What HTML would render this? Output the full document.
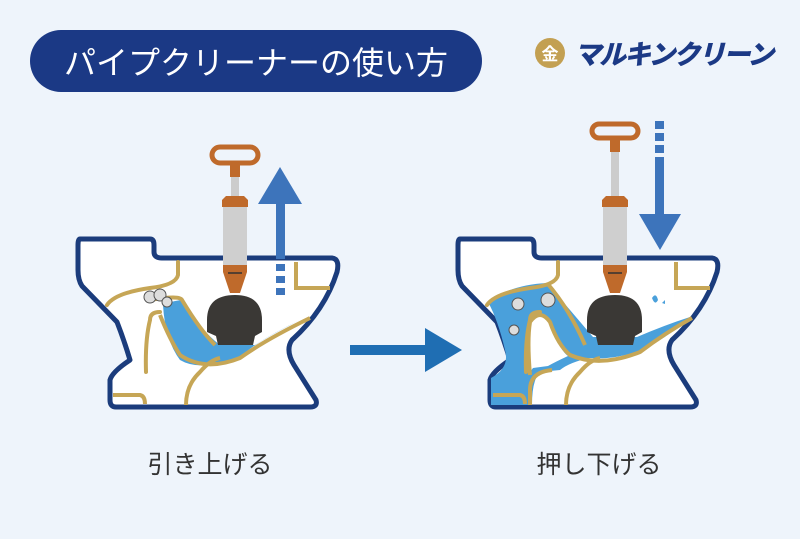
<!DOCTYPE html>
<html><head><meta charset="utf-8"><style>
body{margin:0;width:800px;height:534px;background:#eef4fb;overflow:hidden;font-family:"Liberation Sans","Noto Sans CJK JP",sans-serif}
</style></head><body>
<svg width="800" height="534" viewBox="0 0 800 534" xmlns="http://www.w3.org/2000/svg">
<rect x="0" y="0" width="800" height="534" fill="#eef4fb"/>
<rect x="30" y="30" width="452" height="62" rx="31" fill="#1b3985"/>
<text x="256" y="74" font-size="32" fill="#fff" text-anchor="middle" font-family="Noto Sans CJK JP,sans-serif">パイプクリーナーの使い方</text>
<circle cx="550" cy="53" r="15" fill="#c3a052"/>
<text x="550" y="60" font-size="17" fill="#fff" text-anchor="middle" font-weight="bold" font-family="Noto Sans CJK JP,sans-serif">金</text>
<text x="574" y="64" font-size="27" fill="#1b3985" font-weight="900" font-style="italic" font-family="Noto Sans CJK JP,sans-serif" textLength="200">マルキンクリーン</text>

<defs>
<g id="toilet">
<path d="M80,239 L150,239 Q154,239 154,245 L154,252 Q154,258 162,258 L332,258 Q340,259 337,272 Q325,310 292,340 Q285,350 294,365 L316,400 Q318,407 310,407 L116,407 Q110,407 110,400 L110,380 Q112,372 130,360 Q124,340 117,322 L82,286 Q78,280 78,270 L78,245 Q78,239 80,239 Z" fill="#fff" stroke="#1b3c7c" stroke-width="5" stroke-linejoin="round"/>
</g>
<g id="gold">
<path d="M178,262 L178,275 Q176,285 150,288 Q115,293 107,305 M146,372 Q145,340 150,320 Q150,312 160,312" fill="none" stroke="#c6a656" stroke-width="4" stroke-linecap="round"/>
<path d="M296,262 L296,288 L330,288" fill="none" stroke="#c6a656" stroke-width="4"/>
<path d="M113,395 L140,395 Q145,396 145,404 M186,405 Q186,385 200,372 Q210,360 220,358" fill="none" stroke="#c6a656" stroke-width="4"/>
</g>
</defs>

<!-- left toilet -->
<use href="#toilet"/>
<path d="M163,305 Q175,300 183,300 Q200,330 220,345 L255,345 Q275,332 300,320 Q250,345 240,358 Q200,372 180,360 Q165,340 163,305 Z" fill="#4aa0db"/>
<use href="#gold"/>
<path d="M150,300 Q180,295 182,300 Q200,330 215,345 M160,315 Q170,340 180,355 Q205,372 240,358 Q265,340 310,318" fill="none" stroke="#c6a656" stroke-width="4"/>
<g fill="#ddd" stroke="#555" stroke-width="1"><circle cx="150" cy="297" r="6"/><circle cx="160" cy="295" r="6"/><circle cx="167" cy="302" r="5"/></g>

<!-- right toilet -->
<use href="#toilet" transform="translate(380,0)"/>
<path d="M488,302 Q510,285 547,283 Q570,310 593,337 L637,337 Q665,325 690,317 Q665,340 637,352 Q610,360 590,358 Q570,362 560,370 L540,372 Q532,380 532,405 L491,405 L491,378 Q510,368 505,350 Q498,320 488,302 Z" fill="#4aa0db"/>
<path d="M530,372 Q527,340 530,322 Q537,312 545,315 Q552,322 556,335 Q560,350 568,356 Q555,362 548,366 L533,368 Z" fill="#fff"/>
<use href="#gold" transform="translate(380,0)"/>
<path d="M547,283 Q570,310 585,345 M530,375 Q527,340 530,322 Q540,308 550,322 Q558,345 570,355 Q600,368 640,352 Q665,333 692,318 M552,370 Q530,372 530,390 L530,405" fill="none" stroke="#c6a656" stroke-width="4"/>
<g fill="#ddd" stroke="#555" stroke-width="1"><circle cx="518" cy="304" r="6"/><circle cx="548" cy="300" r="7"/><circle cx="514" cy="330" r="5"/></g>
<path d="M652,298 q4,-6 6,2 q-3,6 -6,-2Z M662,303 l3,-3 l0,4Z" fill="#4aa0db"/>

<!-- left plunger -->
<g>
<rect x="212" y="147" width="46" height="16" rx="8" fill="none" stroke="#bf6a2b" stroke-width="5"/>
<rect x="230" y="163" width="10" height="14" fill="#bf6a2b"/>
<rect x="231" y="177" width="8" height="20" fill="#ccc"/>
<path d="M222,200 L226,196 L244,196 L248,200 L248,207 L222,207Z" fill="#bf6a2b"/>
<rect x="223" y="207" width="24" height="58" fill="#cfcfcf"/>
<path d="M223,265 L247,265 L247,272 L240,293 L230,293 L223,272Z" fill="#bf6a2b"/>
<line x1="228" y1="273" x2="242" y2="273" stroke="#333" stroke-width="1.5"/>
<path d="M207,320 Q207,295 235,295 Q262,295 262,320 L262,332 L255,336 L253,345 L218,345 L216,336 L207,332Z" fill="#3a3835"/>
</g>
<!-- right plunger -->
<g>
<rect x="592" y="124" width="46" height="14" rx="7" fill="none" stroke="#bf6a2b" stroke-width="5"/>
<rect x="610" y="138" width="10" height="14" fill="#bf6a2b"/>
<rect x="611" y="152" width="8" height="45" fill="#ccc"/>
<path d="M602,200 L606,196 L624,196 L628,200 L628,207 L602,207Z" fill="#bf6a2b"/>
<rect x="603" y="207" width="24" height="58" fill="#cfcfcf"/>
<path d="M603,265 L627,265 L627,272 L620,293 L610,293 L603,272Z" fill="#bf6a2b"/>
<line x1="608" y1="273" x2="622" y2="273" stroke="#333" stroke-width="1.5"/>
<path d="M587,320 Q587,295 615,295 Q642,295 642,320 L642,332 L635,336 L633,345 L598,345 L596,336 L587,332Z" fill="#3a3835"/>
</g>

<!-- up arrow -->
<g fill="#3d74bb">
<path d="M258,204 L280,167 L302,204Z"/>
<rect x="276" y="203" width="9" height="56"/>
<rect x="276" y="264" width="9" height="7"/><rect x="276" y="276" width="9" height="7"/><rect x="276" y="288" width="9" height="7"/>
</g>
<!-- down arrow -->
<g fill="#3d74bb">
<rect x="655" y="121" width="9" height="8"/><rect x="655" y="133" width="9" height="8"/><rect x="655" y="145" width="9" height="8"/>
<rect x="655" y="157" width="9" height="58"/>
<path d="M639,214 L681,214 L660,250Z"/>
</g>
<!-- middle arrow -->
<g fill="#1f6eb3"><rect x="350" y="345" width="80" height="10"/><path d="M425,328 L462,350 L425,372Z"/></g>

<text x="210" y="473" font-size="25" fill="#333" text-anchor="middle" font-family="Noto Sans CJK JP,sans-serif">引き上げる</text>
<text x="599" y="473" font-size="25" fill="#333" text-anchor="middle" font-family="Noto Sans CJK JP,sans-serif">押し下げる</text>
</svg>
</body></html>
